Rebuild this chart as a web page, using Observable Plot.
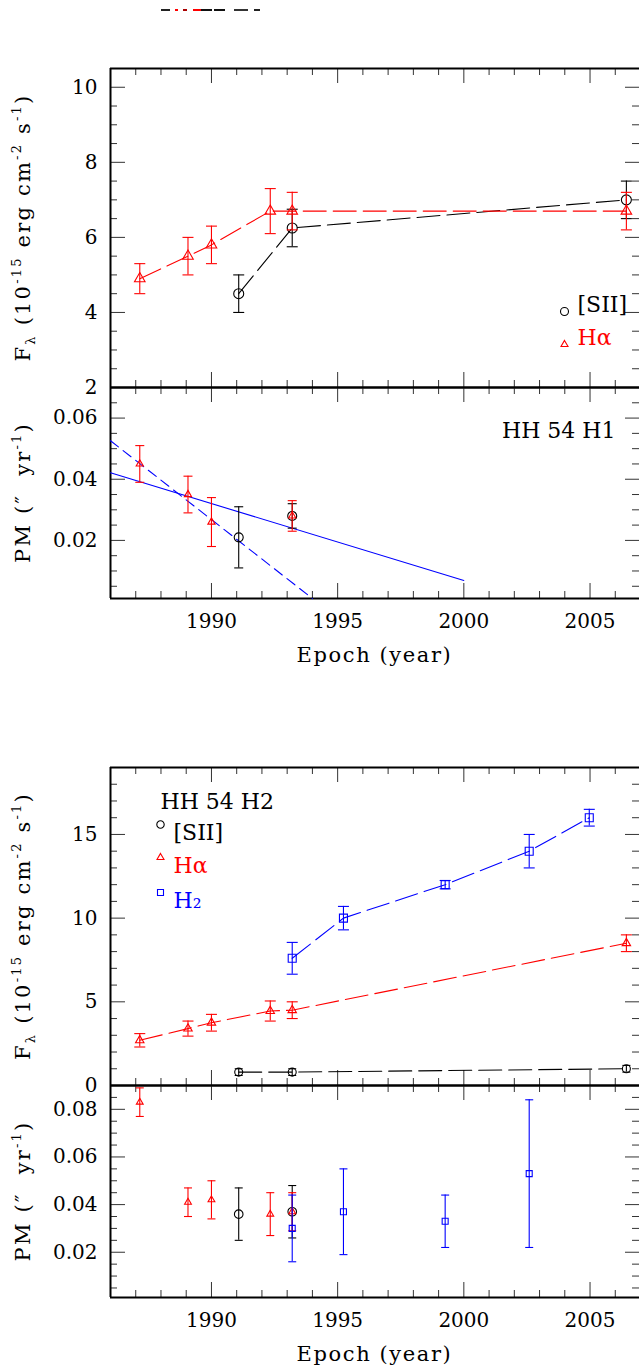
<!DOCTYPE html>
<html><head><meta charset="utf-8">
<script src="https://cdn.jsdelivr.net/npm/d3@7"></script>
<script src="https://cdn.jsdelivr.net/npm/@observablehq/plot@0.6"></script>
<style>
html,body{margin:0;padding:0;background:#fff;overflow:hidden}
#wrap{position:relative;width:639px;height:1368px;background:#fff}
#wrap svg{position:absolute;left:0}
#artifact{position:absolute;left:161px;top:9px;width:99px;height:2px;
background:linear-gradient(to right,#222 0 9px,transparent 9px 14px,#f00 14px 17px,transparent 17px 22px,#a00 22px 26px,transparent 26px 32px,#f00 32px 40px,#111 40px 51px,transparent 51px 53px,#111 53px 64px,transparent 64px 73px,#333 73px 87px,transparent 87px 93px,#222 93px 99px)}
</style></head><body><div id="wrap"><div id="artifact"></div></div>
<script>
const FONT = "DejaVu Serif";
// x axis
const xDomain = [1986, 2006.96];
const xMajor = [1990, 1995, 2000, 2005];
const xMinor = d3.range(1987, 2007).filter(y => y % 5 !== 0);

// HH 54 H1 flux
const h1SiiYear = [1991.08, 1993.2, 2006.44];
const h1SiiFlux = [4.5, 6.25, 7.0];
const h1SiiFluxErr = [0.5, 0.5, 0.5];
const h1HaYear = [1987.16, 1989.07, 1990.0, 1992.33, 1993.2, 2006.44];
const h1HaFlux = [4.9, 5.5, 5.8, 6.7, 6.7, 6.7];
const h1HaFluxErr = [0.4, 0.5, 0.5, 0.6, 0.5, 0.5];
// HH 54 H1 proper motion
const h1SiiPmYear = [1991.08, 1993.2];
const h1SiiPm = [0.021, 0.028];
const h1SiiPmErr = [0.010, 0.004];
const h1HaPmYear = [1987.16, 1989.07, 1990.0, 1993.2];
const h1HaPm = [0.045, 0.035, 0.026, 0.028];
const h1HaPmErr = [0.006, 0.006, 0.008, 0.005];
const fitSolidYear = [1986, 2000];
const fitSolidPm = [0.0421, 0.0069];
const fitDashYear = [1986, 1994];
const fitDashPm = [0.0526, 0.001];
// HH 54 H2 flux
const h2SiiYear = [1991.08, 1993.2, 2006.44];
const h2SiiFlux = [0.8, 0.8, 1.0];
const h2SiiFluxErr = [0.2, 0.2, 0.2];
const h2HaYear = [1987.16, 1989.07, 1990.0, 1992.33, 1993.2, 2006.44];
const h2HaFlux = [2.7, 3.4, 3.75, 4.45, 4.5, 8.5];
const h2HaFluxErr = [0.4, 0.45, 0.5, 0.6, 0.5, 0.5];
const h2H2Year = [1993.2, 1995.23, 1999.26, 2002.59, 2004.97];
const h2H2Flux = [7.6, 10.0, 12.0, 14.0, 16.0];
const h2H2FluxErr = [0.95, 0.7, 0.25, 1.0, 0.5];
// HH 54 H2 proper motion
const h2SiiPmYear = [1991.08, 1993.2];
const h2SiiPm = [0.036, 0.037];
const h2SiiPmErr = [0.011, 0.011];
const h2HaPmYear = [1987.16, 1989.07, 1990.0, 1992.33, 1993.2];
const h2HaPm = [0.083, 0.041, 0.042, 0.036, 0.037];
const h2HaPmErr = [0.006, 0.006, 0.008, 0.009, 0.008];
const h2H2PmYear = [1993.2, 1995.23, 1999.26, 2002.59];
const h2H2Pm = [0.030, 0.037, 0.033, 0.053];
const h2H2PmErr = [0.014, 0.018, 0.011, 0.031];

// y ticks
const fluxAMajor = [2, 4, 6, 8, 10];
const fluxAMinor = d3.range(5, 22).map(i => i / 2).filter(v => v % 2 !== 0);
const pmBMajor = [0.02, 0.04, 0.06];
const pmBMinor = d3.range(1, 14).filter(i => i % 4 !== 0).map(i => i * 0.005);
const fluxCMajor = [0, 5, 10, 15];
const fluxCMinor = d3.range(1, 19).filter(i => i % 5 !== 0);
const pmDMajor = [0.02, 0.04, 0.06, 0.08];
const pmDMinor = d3.range(1, 18).filter(i => i % 4 !== 0).map(i => i * 0.005);

// symbols
const rad = s => Math.sqrt(s / Math.PI);
const capSym = {draw(c, s) { const r = rad(s); c.moveTo(-r, 0); c.lineTo(r, 0); }};
const triSym = {draw(c, s) { const r = rad(s), h = r * Math.sqrt(3); c.moveTo(0, -2 * h / 3); c.lineTo(r, h / 3); c.lineTo(-r, h / 3); c.closePath(); }};
const sqSym = {draw(c, s) { const r = rad(s); c.rect(-r, -r, 2 * r, 2 * r); }};
const circSym = {draw(c, s) { const r = rad(s); c.moveTo(r, 0); c.arc(0, 0, r, 0, 2 * Math.PI); }};

const rows = (years, vals, errs) => years.map((year, i) => ({year, v: vals[i], e: errs[i]}));

function series(data, {color, sym, r, cap, dash}) {
  const m = [];
  if (dash) m.push(Plot.line(data, {x: "year", y: "v", stroke: color, strokeWidth: 1.1, strokeDasharray: dash}));
  m.push(Plot.ruleX(data, {x: "year", y1: d => d.v - d.e, y2: d => d.v + d.e, stroke: color, strokeWidth: 1.1}));
  m.push(Plot.dot(data, {x: "year", y: d => d.v + d.e, symbol: capSym, r: cap, stroke: color, fill: "none", strokeWidth: 1.1}));
  m.push(Plot.dot(data, {x: "year", y: d => d.v - d.e, symbol: capSym, r: cap, stroke: color, fill: "none", strokeWidth: 1.1}));
  m.push(Plot.dot(data, {x: "year", y: "v", symbol: sym, r, stroke: color, fill: "none", strokeWidth: 1.1}));
  return m;
}

const W = 529;
function frameMarks(p) {
  const H = p.H, tc = "#333";
  return [
    Plot.tickX(xMajor, {x: d => d, insetTop: H - 15, stroke: tc}),
    Plot.tickX(xMinor, {x: d => d, insetTop: H - 7, stroke: tc}),
    Plot.tickX(xMajor, {x: d => d, insetBottom: H - 15, stroke: tc}),
    Plot.tickX(xMinor, {x: d => d, insetBottom: H - 7, stroke: tc}),
    Plot.tickY(p.yMajor, {y: d => d, insetRight: W - 15, stroke: tc}),
    Plot.tickY(p.yMinor, {y: d => d, insetRight: W - 7, stroke: tc}),
    Plot.tickY(p.yMajor, {y: d => d, insetLeft: W - 14, stroke: tc}),
    Plot.tickY(p.yMinor, {y: d => d, insetLeft: W - 7, stroke: tc}),
    Plot.ruleY([p.yDomain[0]], {strokeWidth: 2, stroke: "black"}),
    Plot.ruleY([p.yDomain[1]], {strokeWidth: 2, stroke: "black"}),
    Plot.ruleX([xDomain[0]], {strokeWidth: 2, stroke: "black"})
  ];
}

function addYTitle(svg, cy, parts) {
  const fs = 21;
  const t = d3.select(svg).append("text")
    .attr("transform", `translate(30,${cy}) rotate(-90)`)
    .attr("text-anchor", "middle")
    .attr("font-family", FONT).attr("font-size", fs).attr("fill", "black")
    .style("letter-spacing", "2.2px");
  let shift = 0;
  for (const [s, k] of parts) {
    const target = k === "sup" ? -9 : k === "sub" ? 5 : 0;
    const ts = t.append("tspan").attr("font-size", k === "n" ? fs : 13).text(s);
    if (target - shift !== 0) ts.attr("dy", target - shift);
    shift = target;
  }
}

function addXTitle(svg, x, y, label) {
  d3.select(svg).append("text")
    .attr("x", x).attr("y", y)
    .attr("text-anchor", "middle")
    .attr("font-family", FONT).attr("font-size", 21).attr("fill", "black")
    .style("letter-spacing", "1.6px")
    .text(label);
}

const fluxTitle = [["F", "n"], ["λ", "sub"], [" (10", "n"], ["-15", "sup"], [" erg cm", "n"], ["-2", "sup"], [" s", "n"], ["-1", "sup"], [")", "n"]];
const pmTitle = [["PM (″  yr", "n"], ["-1", "sup"], [")", "n"]];
const xTitle = "Epoch (year)";

const LF = 22;
const txt = (s, o) => Plot.text([s], {x: null, y: null, text: d => d, fontFamily: FONT, fontSize: LF, ...o});
const mark = (sym, r, o) => Plot.dot([0], {x: null, y: null, symbol: sym, r, fill: "none", strokeWidth: 1.1, ...o});

const panels = [
  {top: 68, H: 319, mt: 20, mb: 20, yDomain: [2, 10.5], yMajor: fluxAMajor, yMinor: fluxAMinor, fmt: d => String(d), title: fluxTitle,
   marks: [
     ...series(rows(h1SiiYear, h1SiiFlux, h1SiiFluxErr), {color: "black", sym: circSym, r: 5, cap: 5.5, dash: "23,7"}),
     ...series(rows(h1HaYear, h1HaFlux, h1HaFluxErr), {color: "red", sym: triSym, r: 5.3, cap: 5.5, dash: "23,7"}),
     mark(circSym, 4, {frameAnchor: "bottom-right", dx: -75, dy: -76, stroke: "black"}),
     txt("[SII]", {frameAnchor: "bottom-right", dx: -62, dy: -76, textAnchor: "start", fill: "black"}),
     mark(triSym, 3.5, {frameAnchor: "bottom-right", dx: -75, dy: -43, stroke: "red"}),
     txt("Hα", {frameAnchor: "bottom-right", dx: -62, dy: -43, textAnchor: "start", fill: "red"})
   ]},
  {top: 387, H: 211, mt: 10, mb: 80, yDomain: [0.001, 0.07], yMajor: pmBMajor, yMinor: pmBMinor, fmt: d => d.toFixed(2), title: pmTitle, xLabels: true,
   marks: [
     Plot.line(rows(fitSolidYear, fitSolidPm, [0, 0]), {x: "year", y: "v", stroke: "blue", strokeWidth: 1.1}),
     Plot.line(rows(fitDashYear, fitDashPm, [0, 0]), {x: "year", y: "v", stroke: "blue", strokeWidth: 1.1, strokeDasharray: "10,6"}),
     ...series(rows(h1SiiPmYear, h1SiiPm, h1SiiPmErr), {color: "black", sym: circSym, r: 4.5, cap: 4.5}),
     ...series(rows(h1HaPmYear, h1HaPm, h1HaPmErr), {color: "red", sym: triSym, r: 3.6, cap: 4.5}),
     txt("HH 54 H1", {frameAnchor: "top-right", dx: -24, dy: 35, textAnchor: "end", fill: "black"})
   ]},
  {top: 767, H: 318, mt: 20, mb: 20, yDomain: [0, 19], yMajor: fluxCMajor, yMinor: fluxCMinor, fmt: d => String(d), title: fluxTitle,
   marks: [
     ...series(rows(h2SiiYear, h2SiiFlux, h2SiiFluxErr), {color: "black", sym: circSym, r: 4, cap: 4, dash: "23,7"}),
     ...series(rows(h2HaYear, h2HaFlux, h2HaFluxErr), {color: "red", sym: triSym, r: 4.2, cap: 5.5, dash: "23,7"}),
     ...series(rows(h2H2Year, h2H2Flux, h2H2FluxErr), {color: "blue", sym: sqSym, r: 4, cap: 5.5, dash: "23,7"}),
     txt("HH 54 H2", {frameAnchor: "top-left", dx: 50, dy: 26, textAnchor: "start", fill: "black"}),
     mark(circSym, 3.7, {frameAnchor: "top-left", dx: 50, dy: 57, stroke: "black"}),
     txt("[SII]", {frameAnchor: "top-left", dx: 63, dy: 57, textAnchor: "start", fill: "black"}),
     mark(triSym, 3.5, {frameAnchor: "top-left", dx: 50, dy: 90, stroke: "red"}),
     txt("Hα", {frameAnchor: "top-left", dx: 63, dy: 90, textAnchor: "start", fill: "red"}),
     mark(sqSym, 3, {frameAnchor: "top-left", dx: 50, dy: 125, stroke: "blue"}),
     txt("H₂", {frameAnchor: "top-left", dx: 63, dy: 125, textAnchor: "start", fill: "blue"})
   ]},
  {top: 1085, H: 212, mt: 10, mb: 70, yDomain: [0.001, 0.09], yMajor: pmDMajor, yMinor: pmDMinor, fmt: d => d.toFixed(2), title: pmTitle, xLabels: true,
   marks: [
     ...series(rows(h2SiiPmYear, h2SiiPm, h2SiiPmErr), {color: "black", sym: circSym, r: 4.3, cap: 4}),
     ...series(rows(h2HaPmYear, h2HaPm, h2HaPmErr), {color: "red", sym: triSym, r: 3.4, cap: 4}),
     ...series(rows(h2H2PmYear, h2H2Pm, h2H2PmErr), {color: "blue", sym: sqSym, r: 3, cap: 4})
   ]}
];

const wrap = document.getElementById("wrap");
for (const p of panels) {
  const extra = p.xLabels ? [
    Plot.axisX(xMajor, {tickSize: 0, tickPadding: 15, tickFormat: d => String(d), label: null, fontSize: 20, fontFamily: FONT})
  ] : [];
  const svg = Plot.plot({
    width: 639, height: p.H + p.mt + p.mb,
    marginLeft: 110, marginRight: 0, marginTop: p.mt, marginBottom: p.mb,
    x: p.xLabels ? {domain: xDomain} : {domain: xDomain, axis: null},
    y: {domain: p.yDomain},
    style: {fontFamily: FONT, fontSize: "20px", background: "transparent", overflow: "visible", color: "black"},
    marks: [
      ...frameMarks(p),
      Plot.axisY(p.yMajor, {tickSize: 0, tickPadding: 13, tickFormat: p.fmt, label: null, fontSize: 20, fontFamily: FONT}),
      ...extra,
      ...p.marks
    ]
  });
  svg.style.position = "absolute";
  svg.style.top = (p.top - p.mt) + "px";
  svg.style.left = "0px";
  wrap.appendChild(svg);
  addYTitle(svg, p.mt + p.H / 2, p.title);
  if (p.xLabels) addXTitle(svg, 110 + W / 2, p.mt + p.H + 64, xTitle);
}
</script></body></html>
